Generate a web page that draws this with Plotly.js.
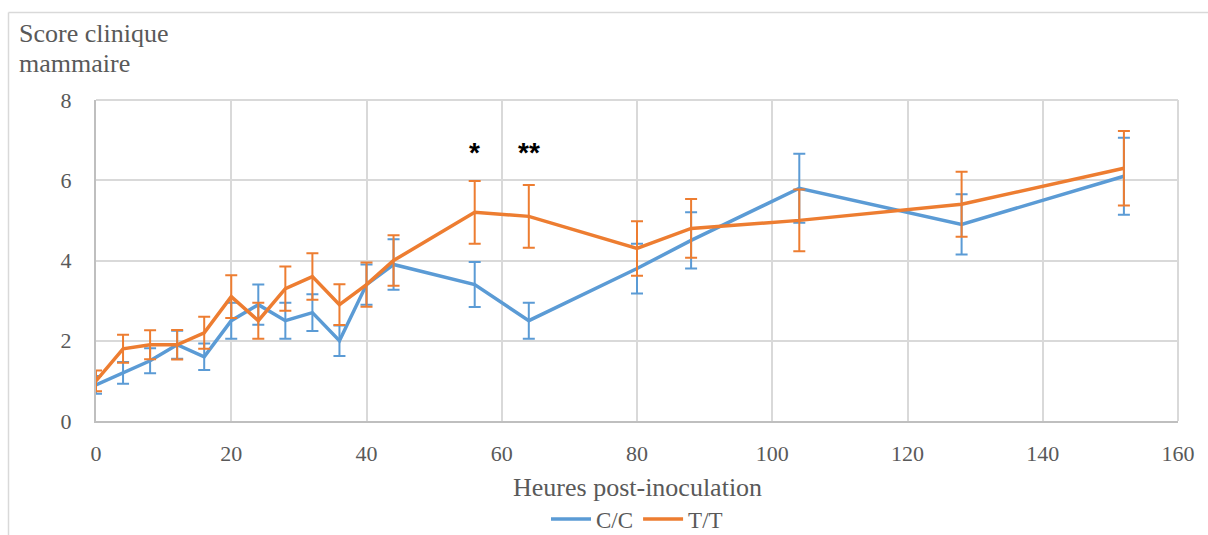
<!DOCTYPE html>
<html>
<head>
<meta charset="utf-8">
<script src="https://cdn.plot.ly/plotly-3.0.1.min.js"></script>
<style>
html,body{margin:0;padding:0;background:#fff;}
#chart{width:1208px;height:535px;}
</style>
</head>
<body>
<div id="chart"></div>
<script>
const hours = [0,4,8,12,16,20,24,28,32,36,40,44,56,64,80,88,104,128,152];
const ccValues = [0.9,1.2,1.5,1.9,1.6,2.5,2.9,2.5,2.7,2.0,3.4,3.9,3.4,2.5,3.8,4.5,5.8,4.9,6.1];
const ccErrors = [0.22,0.27,0.31,0.35,0.33,0.45,0.5,0.45,0.46,0.38,0.5,0.63,0.56,0.45,0.62,0.7,0.86,0.75,0.96];
const ttValues = [1.0,1.8,1.9,1.9,2.2,3.1,2.5,3.3,3.6,2.9,3.4,4.0,5.2,5.1,4.3,4.8,5.0,5.4,6.3];
const ttErrors = [0.26,0.35,0.36,0.37,0.4,0.53,0.45,0.55,0.58,0.51,0.55,0.63,0.78,0.78,0.68,0.73,0.77,0.81,0.93];
const seriesNames = ["C/C","T/T"];
const starHours = [56,64];
const starLabels = ["*","**"];
const starLevel = 6.68;
const xTicks = [0,20,40,60,80,100,120,140,160];
const yTicks = [0,2,4,6,8];

const blue = "#5b9bd5", orange = "#ed7d31", txt = "#595959";
const font = "Liberation Serif";

function trace(name, y, err, color){
  return {
    x: hours, y: y, name: name, type: "scatter", mode: "lines",
    line: {color: color, width: 3.5},
    error_y: {type: "data", array: err, visible: true, color: color, thickness: 2, width: 6},
    hoverinfo: "skip"
  };
}

const data = [trace(seriesNames[0], ccValues, ccErrors, blue), trace(seriesNames[1], ttValues, ttErrors, orange)];

const L = 96, R = 30, T = 100, B = 114, W = 1208, H = 535;
const pw = W - L - R, ph = H - T - B;
const px2x = p => (p - L) / pw;
const py2y = p => (H - B - p) / ph;

const annotations = starHours.map((h, i) => ({
  x: h, y: starLevel, xref: "x", yref: "y", text: "<b>" + starLabels[i] + "</b>", showarrow: false,
  font: {family: "Liberation Sans", size: 28, color: "#000"},
  xanchor: "center", yanchor: "middle"
}));
annotations.push({x: px2x(17), y: py2y(34), xref: "paper", yref: "paper", text: "Score clinique",
  showarrow: false, xanchor: "left", yanchor: "middle", font: {family: font, size: 26, color: txt}});
annotations.push({x: px2x(17), y: py2y(64), xref: "paper", yref: "paper", text: "mammaire",
  showarrow: false, xanchor: "left", yanchor: "middle", font: {family: font, size: 26, color: txt}});
annotations.push({x: 0.5, y: py2y(487), xref: "paper", yref: "paper", text: "Heures post-inoculation",
  showarrow: false, xanchor: "center", yanchor: "middle", font: {family: font, size: 26, color: txt}});

const layout = {
  width: W, height: H,
  margin: {l: L, r: R, t: T, b: B, pad: 0, autoexpand: false},
  paper_bgcolor: "#fff", plot_bgcolor: "#fff",
  font: {family: font, size: 22, color: txt},
  showlegend: true,
  legend: {orientation: "h", x: 0.5, xanchor: "center", y: py2y(519), yanchor: "middle",
    font: {family: font, size: 23, color: txt}, itemwidth: 40, traceorder: "normal"},
  xaxis: {range: [0, 160], tickvals: xTicks, ticks: "", showgrid: true, gridcolor: "#d9d9d9", gridwidth: 2,
    showline: true, linecolor: "#bfbfbf", linewidth: 2, zeroline: false, ticklabelstandoff: 12,
    tickfont: {family: font, size: 22, color: txt}, fixedrange: true, automargin: false},
  yaxis: {range: [0, 8], tickvals: yTicks, ticks: "", showgrid: true, gridcolor: "#d9d9d9", gridwidth: 2,
    showline: true, linecolor: "#bfbfbf", linewidth: 2, zeroline: false, ticklabelstandoff: 18,
    tickfont: {family: font, size: 22, color: txt}, fixedrange: true, automargin: false},
  annotations: annotations,
  shapes: [
    {type: "line", xref: "paper", yref: "paper", x0: 1, x1: 1, y0: 0, y1: 1, line: {color: "#d9d9d9", width: 2}, layer: "below"},
    {type: "line", xref: "paper", yref: "paper", x0: 0, x1: 1, y0: 1, y1: 1, line: {color: "#d9d9d9", width: 2}, layer: "below"},
    {type: "line", xref: "paper", yref: "paper", x0: px2x(8.5), x1: px2x(8.5), y0: py2y(12.5), y1: py2y(560), line: {color: "#d9d9d9", width: 1.5}},
    {type: "line", xref: "paper", yref: "paper", x0: px2x(8.5), x1: px2x(1230), y0: py2y(12.5), y1: py2y(12.5), line: {color: "#d9d9d9", width: 1.5}}
  ]
};

Plotly.newPlot("chart", data, layout, {displayModeBar: false, staticPlot: true});
</script>
</body>
</html>
